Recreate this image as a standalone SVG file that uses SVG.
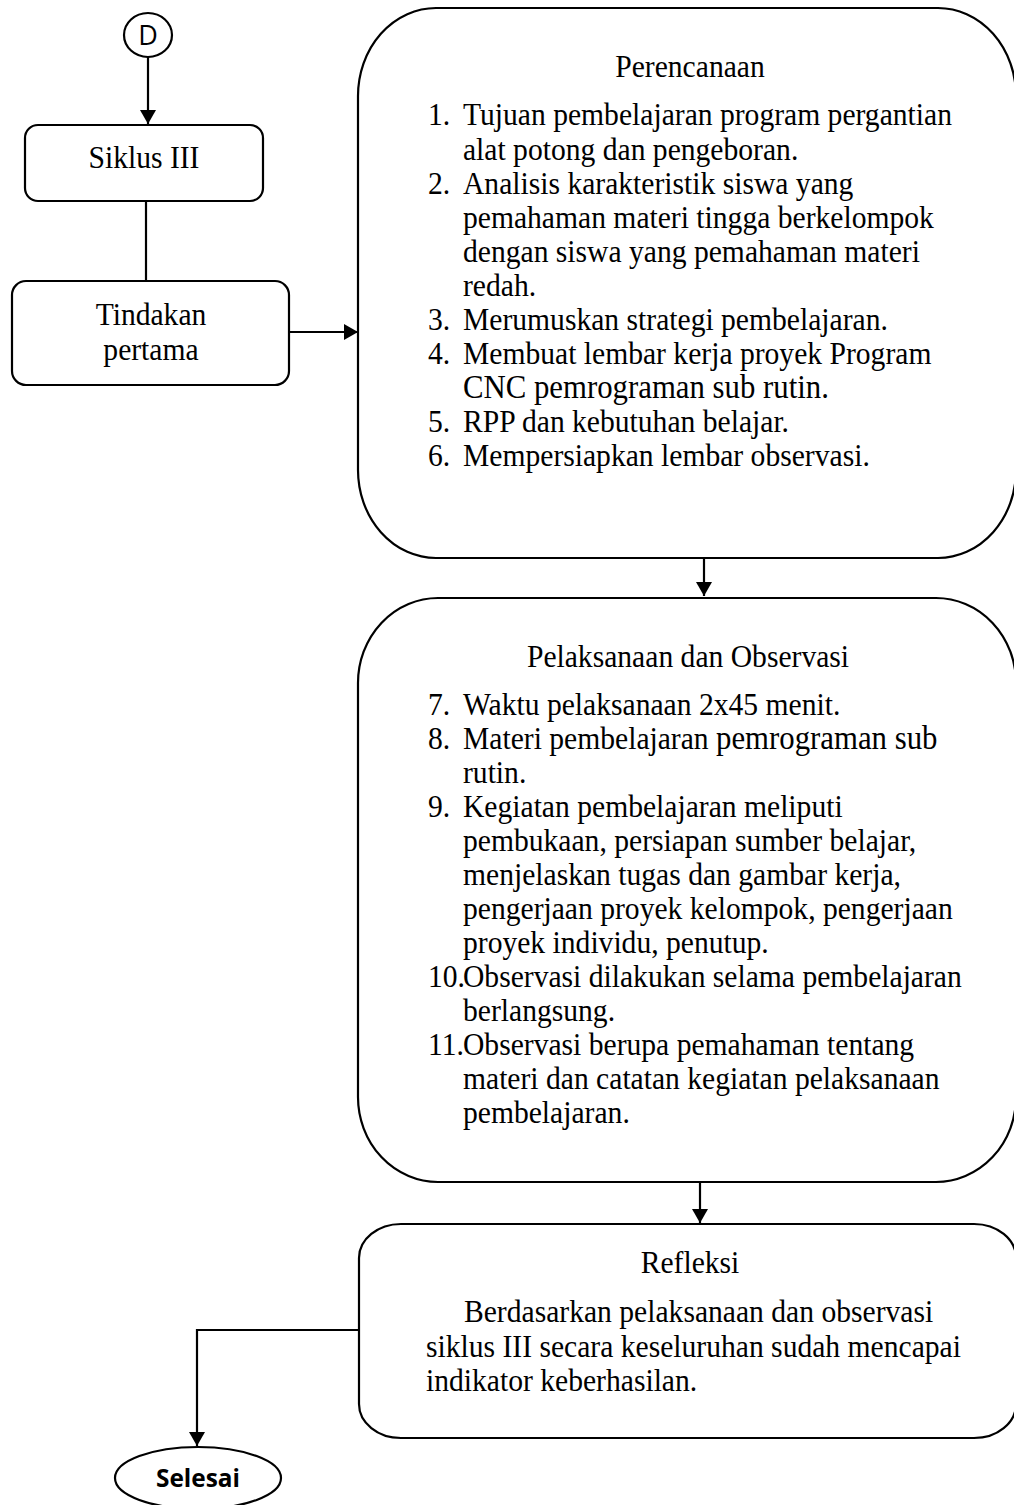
<svg xmlns="http://www.w3.org/2000/svg" width="1014" height="1505" viewBox="0 0 1014 1505">
<style>
.box{fill:#fff;stroke:#000;stroke-width:2.2}
.t{font-family:"Times New Roman","Liberation Serif",Tinos,serif;font-size:29.6px;fill:#000}
.c{text-anchor:middle}
.big{font-size:30.8px}
.line{fill:none;stroke:#000;stroke-width:2.2}
.sel{font-family:"Open Sans","Liberation Sans",sans-serif;font-weight:bold;font-size:25px;fill:#000;text-anchor:middle}
</style>
<defs>
<marker id="arr" viewBox="0 0 14 16" refX="14" refY="8" markerWidth="14" markerHeight="16" markerUnits="userSpaceOnUse" orient="auto">
<path d="M0,0 L14,8 L0,16 Z" fill="#000"/>
</marker>
</defs>
<g id="connectors">
<line class="line" x1="148" y1="57" x2="148" y2="124" marker-end="url(#arr)"/>
<line class="line" x1="146" y1="201" x2="146" y2="281"/>
<line class="line" x1="289" y1="332" x2="358" y2="332" marker-end="url(#arr)"/>
<line class="line" x1="704" y1="558" x2="704" y2="596" marker-end="url(#arr)"/>
<line class="line" x1="700" y1="1182" x2="700" y2="1223" marker-end="url(#arr)"/>
<polyline class="line" points="359,1330 197,1330 197,1446" marker-end="url(#arr)"/>
</g>
<g id="node-d">
<ellipse class="box" cx="148" cy="35" rx="24" ry="22"/>
<text x="148" y="45" class="c" font-family="'Open Sans','Liberation Sans',sans-serif" font-size="27">D</text>
</g>
<g id="node-siklus">
<rect class="box" x="25" y="125" width="238" height="76" rx="13"/>
<text class="t c" x="144" y="152.73" transform="scale(1,1.1)">Siklus III</text>
</g>
<g id="node-tindakan">
<rect class="box" x="12" y="281" width="277" height="104" rx="14"/>
<g transform="scale(1,1.1)">
<text class="t c" x="151" y="295.45">Tindakan</text>
<text class="t c" x="151" y="327.27">pertama</text>
</g>
</g>
<g id="node-perencanaan">
<rect class="box" x="358" y="8" width="658" height="550" rx="78" ry="88"/>
<g transform="scale(1,1.1)">
<text class="t c" x="690" y="70">Perencanaan</text>
<text class="t"><tspan x="428" y="113.64">1.</tspan><tspan x="463" y="113.64">Tujuan pembelajaran program pergantian</tspan>
<tspan x="463" y="145.45">alat potong dan pengeboran.</tspan>
<tspan x="428" y="176.36">2.</tspan><tspan x="463" y="176.36">Analisis karakteristik siswa yang</tspan>
<tspan x="463" y="207.27">pemahaman materi tingga berkelompok</tspan>
<tspan x="463" y="238.18">dengan siswa yang pemahaman materi</tspan>
<tspan x="463" y="269.09">redah.</tspan>
<tspan x="428" y="300">3.</tspan><tspan x="463" y="300">Merumuskan strategi pembelajaran.</tspan>
<tspan x="428" y="330.91">4.</tspan><tspan x="463" y="330.91">Membuat lembar kerja proyek Program</tspan>
<tspan x="463" y="361.82" class="big">CNC pemrograman sub rutin.</tspan>
<tspan x="428" y="392.73">5.</tspan><tspan x="463" y="392.73">RPP dan kebutuhan belajar.</tspan>
<tspan x="428" y="423.64">6.</tspan><tspan x="463" y="423.64">Mempersiapkan lembar observasi.</tspan></text>
</g>
</g>
<g id="node-pelaksanaan">
<rect class="box" x="358" y="598" width="658" height="584" rx="80" ry="85"/>
<g transform="scale(1,1.1)">
<text class="t c" x="688" y="606.36">Pelaksanaan dan Observasi</text>
<text class="t"><tspan x="428" y="650">7.</tspan><tspan x="463" y="650">Waktu pelaksanaan 2x45 menit.</tspan>
<tspan x="428" y="680.91">8.</tspan><tspan x="463" y="680.91">Materi pembelajaran </tspan><tspan class="big">pemrograman sub</tspan>
<tspan x="463" y="711.82">rutin.</tspan>
<tspan x="428" y="742.73">9.</tspan><tspan x="463" y="742.73">Kegiatan pembelajaran meliputi</tspan>
<tspan x="463" y="773.64">pembukaan, persiapan sumber belajar,</tspan>
<tspan x="463" y="804.55">menjelaskan tugas dan gambar kerja,</tspan>
<tspan x="463" y="835.45">pengerjaan proyek kelompok, pengerjaan</tspan>
<tspan x="463" y="866.36">proyek individu, penutup.</tspan>
<tspan x="428" y="897.27">10.</tspan><tspan x="463" y="897.27">Observasi dilakukan selama pembelajaran</tspan>
<tspan x="463" y="928.18">berlangsung.</tspan>
<tspan x="428" y="959.09">11.</tspan><tspan x="463" y="959.09">Observasi berupa pemahaman tentang</tspan>
<tspan x="463" y="990">materi dan catatan kegiatan pelaksanaan</tspan>
<tspan x="463" y="1020.91">pembelajaran.</tspan></text>
</g>
</g>
<g id="node-refleksi">
<rect class="box" x="359" y="1224" width="657" height="214" rx="42" ry="34"/>
<g transform="scale(1,1.1)">
<text class="t c" x="690" y="1157.27">Refleksi</text>
<text class="t"><tspan x="464" y="1201.82">Berdasarkan pelaksanaan dan observasi</tspan>
<tspan x="426" y="1233.64">siklus III secara keseluruhan sudah mencapai</tspan>
<tspan x="426" y="1264.55">indikator keberhasilan.</tspan></text>
</g>
</g>
<g id="node-selesai">
<ellipse class="box" cx="198" cy="1478" rx="83" ry="31"/>
<text class="sel" x="198" y="1487" textLength="84" lengthAdjust="spacingAndGlyphs">Selesai</text>
</g>
</svg>
